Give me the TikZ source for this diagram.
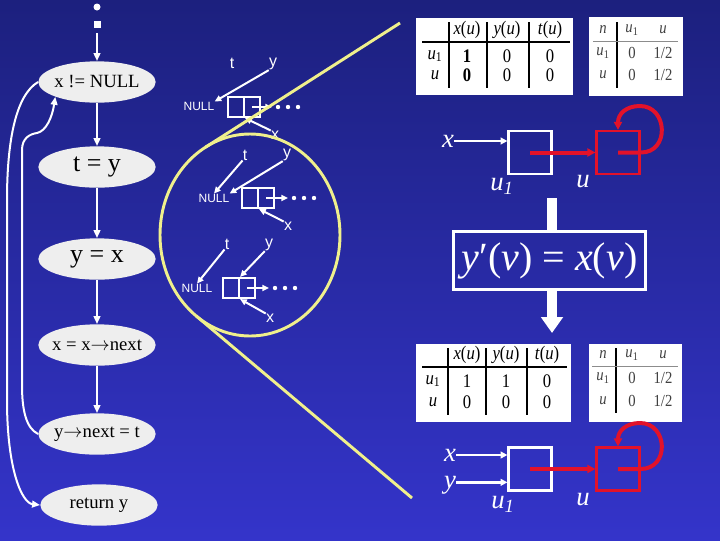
\documentclass[tikz,border=0pt]{standalone}
\usepackage{fontspec}
\setmainfont{Liberation Serif}
\setsansfont{Liberation Sans}
\usetikzlibrary{shapes.geometric, arrows.meta, positioning}

\definecolor{slidetop}{RGB}{28,32,126}
\definecolor{slidebot}{RGB}{52,52,202}
\definecolor{ovalgray}{RGB}{238,238,238}
\definecolor{hiyellow}{RGB}{240,240,140}
\definecolor{sumred}{RGB}{226,18,42}

\newcommand{\tall}[1]{\scalebox{1}[1.15]{#1}}
\newcommand{\xu}{\textit{x}(\textit{u})}
\newcommand{\yu}{\textit{y}(\textit{u})}
\newcommand{\tu}{\textit{t}(\textit{u})}
\newcommand{\uone}{\textit{u}\textsubscript{1}}
\newcommand{\arr}{\ensuremath{\rightarrow}}

\begin{document}
\begin{tikzpicture}[
  x=0.75pt, y=-0.75pt,
  flow/.style={ellipse, fill=ovalgray, minimum width=88pt, minimum height=31pt,
               inner xsep=-6pt, inner ysep=0pt, font=\fontsize{14}{16}\selectfont},
  flowbig/.style={flow, font=\fontsize{19.5}{22}\selectfont},
  down/.style={-{Triangle[length=6pt,width=5pt]}, white, line width=1.5pt},
  back/.style={-{Triangle[length=6pt,width=5pt]}, white, line width=1.5pt},
  lbl/.style={text=white, inner sep=0pt, font=\sffamily\fontsize{12}{14}\selectfont},
  nul/.style={text=white, inner sep=0pt, font=\sffamily\fontsize{9}{10}\selectfont},
  cell/.style={draw=white, line width=1.6pt, minimum width=12pt, minimum height=15pt, inner sep=0pt},
  ptr/.style={-{Triangle[length=5pt,width=4.5pt]}, white, line width=1.5pt},
  hl/.style={hiyellow, line width=2.2pt},
  tab/.style={fill=white, inner sep=0pt},
  tt/.style={inner sep=0pt, font=\fontsize{12.5}{13}\selectfont},
  ts/.style={inner sep=0pt, text=black!75, font=\fontsize{11}{12}\selectfont},
  rule/.style={black, line width=0.8pt},
  thin/.style={black!45, line width=0.6pt},
  big/.style={text=white, inner sep=0pt, font=\itshape\fontsize{20}{22}\selectfont},
  heap/.style={draw=white, line width=1.9pt, minimum width=32pt, minimum height=32pt, inner sep=0pt},
  heapred/.style={heap, draw=sumred},
  wptr/.style={-{Triangle[length=5pt,width=5pt]}, white, line width=1.8pt},
  rptr/.style={-{Triangle[length=6pt,width=6pt]}, sumred, line width=3pt},
  eqbox/.style={draw=white, line width=2.2pt, minimum width=144pt, minimum height=44pt,
                inner sep=0pt, text=white, font=\fontsize{30}{32}\selectfont},
  fat/.style={white, line width=7.5pt}
]
  \useasboundingbox (0,0) rectangle (720,540);
  \shade[top color=slidetop, bottom color=slidebot] (0,0) rectangle (720,540);

  %--- flow chart ---
  \fill[white] (97,7) circle (3.5);
  \fill[white] (93.5,20.5) rectangle (100.5,27.5);
  \coordinate (entry) at (97,33);

  \node[flow]    (cond)  at (97,82)  {x != NULL};
  \node[flowbig] (tey)   at (97,167) {t = y};
  \node[flowbig] (yex)   at (97,259) {y = x};
  \node[flow]    (xnext) at (97,345) {x = x\arr next};
  \node[flow]    (ynext) at (97,434) {y\arr next = t};
  \node[flow]    (ret)   at (99,505) {return y};

  \draw[down] (entry) -- (cond);
  \draw[down] (cond) -- (tey);
  \draw[down] (tey) -- (yex);
  \draw[down] (yex) -- (xnext);
  \draw[down] (xnext) -- (ynext);

  % loop exit and loop back
  \draw[back] (cond.west) .. controls (16,95) and (7,140) .. (7,200)
    -- (7,400) .. controls (7,470) and (22,503) .. (ret.west);
  \draw[back] (ynext.west) .. controls (26,428) and (22,410) .. (22,385)
    -- (22,150) .. controls (22,138) and (30,134) .. (37,133)
    .. controls (46,131) and (52,118) .. (cond.south west);

  %--- list before the loop ---
  \node[lbl] (t1) at (232,63) {t};
  \node[lbl] (y1) at (273,64) {y};
  \node[nul] (n1) at (199,106) {NULL};
  \node[cell] (a1) at (236,107) {};
  \node[cell] (b1) at (252,107) {};
  \node[lbl] (x1) at (275,135) {x};
  \coordinate (d1) at (272,107);
  \draw[ptr] (y1.south west) -- (n1.north east);
  \draw[ptr] (b1.center) -- (d1);
  \draw[ptr] (x1.north west) -- (a1.south east);
  \foreach \d in {278,288,298} \fill[white] (\d,107) circle (2.2);

  %--- after t = y ---
  \node[lbl] (t2) at (245,155) {t};
  \node[lbl] (y2) at (287,155) {y};
  \node[nul] (n2) at (214,198) {NULL};
  \node[cell] (a2) at (250,198) {};
  \node[cell] (b2) at (266,198) {};
  \node[lbl] (x2) at (288,226) {x};
  \coordinate (d2) at (288,198);
  \draw[ptr] (t2.south west) -- (n2.north);
  \draw[ptr] (y2.south west) -- (n2.north east);
  \draw[ptr] (b2.center) -- (d2);
  \draw[ptr] (x2.north west) -- (a2.south east);
  \foreach \d in {294,304,314} \fill[white] (\d,198) circle (2.2);

  %--- after y = x ---
  \node[lbl] (t3) at (227,244) {t};
  \node[lbl] (y3) at (269,245) {y};
  \node[nul] (n3) at (197,288) {NULL};
  \node[cell] (a3) at (231,288) {};
  \node[cell] (b3) at (247,288) {};
  \node[lbl] (x3) at (270,318) {x};
  \coordinate (d3) at (269,288);
  \draw[ptr] (t3.south west) -- (n3.north);
  \draw[ptr] (y3.south west) -- (a3.north east);
  \draw[ptr] (b3.center) -- (d3);
  \draw[ptr] (x3.north west) -- (a3.south east);
  \foreach \d in {275,285,295} \fill[white] (\d,288) circle (2.2);

  %--- zoom lens ---
  \draw[hl] (250,235) ellipse (90 and 101);
  \draw[hl] (400,23) -- (205.5,147.2);
  \draw[hl] (412,498) -- (195.9,315.7);

  %--- tables before ---
  \node[tab, minimum width=117.75pt, minimum height=57.75pt] (tabA) at (494.5,56.5) {};
  \foreach \lx in {449,487,529} \draw[rule] (\lx,22) -- (\lx,88);
  \draw[rule] (422,42) -- (570,42);
  \node[tt] (tA-x) at (467,30) {\tall{\xu}};
  \node[tt] (tA-y) at (507,30) {\tall{\yu}};
  \node[tt] (tA-t) at (550,30) {\tall{\tu}};
  \node[tt] (tA-r1) at (435,56) {\tall{\uone}};
  \node[tt] (tA-r2) at (435,75) {\tall{\textit{u}}};
  \foreach \cx/\va/\vb in {467/\textbf{1}/\textbf{0}, 507/0/0, 550/0/0} {
    \node[tt] (tA-a\cx) at (\cx,56) {\tall{\va}};
    \node[tt] (tA-b\cx) at (\cx,75) {\tall{\vb}};
  }

  \node[tab, minimum width=70.5pt, minimum height=59.25pt] (tabB) at (636,56.5) {};
  \draw[rule] (617,22) -- (617,88);
  \draw[thin] (593,41) -- (678,41);
  \node[ts] (tB-n) at (603,30) {\tall{\textit{n}}};
  \node[ts] (tB-c1) at (632,30) {\tall{\uone}};
  \node[ts] (tB-c2) at (663,30) {\tall{\textit{u}}};
  \node[ts] (tB-r1) at (603,53) {\tall{\uone}};
  \node[ts] (tB-r2) at (603,75) {\tall{\textit{u}}};
  \foreach \ry in {53,75} {
    \node[ts] (tB-a\ry) at (632,\ry) {\tall{0}};
    \node[ts] (tB-b\ry) at (663,\ry) {\tall{1/2}};
  }

  %--- heap before ---
  \node[big] (xA) at (448,141) {x};
  \node[heap]    (u1A) at (530,152.5) {};
  \node[heapred] (uA)  at (618,152.5) {};
  \node[big] (lu1A) at (502,186) {\uone};
  \node[big] (luA)  at (583,182) {u};
  \draw[wptr] (xA.east) -- (xA.east -| u1A.west);
  \draw[rptr] (u1A.center) -- (uA.west);
  \draw[rptr] (uA.center) -- (uA.east) .. controls (670,153) and (668,106) .. (640,106)
    .. controls (626,106) and (618,114) .. (uA.north);

  %--- update formula ---
  \node[eqbox] (eq) at (549.5,260.5) {\textit{y}′(\textit{v}) = \textit{x}(\textit{v})};
  \coordinate (bartop) at (552,198);
  \coordinate (barend) at (552,333);
  \draw[fat] (bartop) -- (bartop |- eq.north);
  \draw[fat, -{Triangle[length=12pt,width=16pt]}] (barend |- eq.south) -- (barend);

  %--- tables after ---
  \node[tab, minimum width=116.25pt, minimum height=58.5pt] (tabC) at (493.5,383) {};
  \foreach \lx in {448,486,527} \draw[rule] (\lx,348) -- (\lx,415);
  \draw[rule] (422,367) -- (567,367);
  \node[tt] (tC-x) at (467,355) {\tall{\xu}};
  \node[tt] (tC-y) at (506,355) {\tall{\yu}};
  \node[tt] (tC-t) at (547,355) {\tall{\tu}};
  \node[tt] (tC-r1) at (433,381) {\tall{\uone}};
  \node[tt] (tC-r2) at (433,402) {\tall{\textit{u}}};
  \foreach \cx/\va/\vb in {467/1/0, 506/1/0, 547/0/0} {
    \node[tt] (tC-a\cx) at (\cx,381) {\tall{\va}};
    \node[tt] (tC-b\cx) at (\cx,402) {\tall{\vb}};
  }

  \node[tab, minimum width=69.75pt, minimum height=58.5pt] (tabD) at (635.5,383) {};
  \draw[rule] (616,348) -- (616,413);
  \draw[thin] (592,366) -- (678,366);
  \node[ts] (tD-n) at (603,355) {\tall{\textit{n}}};
  \node[ts] (tD-c1) at (632,355) {\tall{\uone}};
  \node[ts] (tD-c2) at (663,355) {\tall{\textit{u}}};
  \node[ts] (tD-r1) at (603,378) {\tall{\uone}};
  \node[ts] (tD-r2) at (603,401) {\tall{\textit{u}}};
  \foreach \ry in {378,401} {
    \node[ts] (tD-a\ry) at (632,\ry) {\tall{0}};
    \node[ts] (tD-b\ry) at (663,\ry) {\tall{1/2}};
  }

  %--- heap after ---
  \node[big] (xB) at (450,455) {x};
  \node[big] (yB) at (450,485) {y};
  \node[heap]    (u1B) at (530,469) {};
  \node[heapred] (uB)  at (618,469) {};
  \node[big] (lu1B) at (503,504) {\uone};
  \node[big] (luB)  at (583,500) {u};
  \draw[wptr] (xB.east) -- (xB.east -| u1B.west);
  \draw[wptr] ([yshift=2pt]yB.east) -- ([yshift=2pt]yB.east -| u1B.west);
  \draw[rptr] (u1B.center) -- (uB.west);
  \draw[rptr] (uB.center) -- (uB.east) .. controls (670,469) and (668,423) .. (640,423)
    .. controls (626,423) and (618,431) .. (uB.north);
\end{tikzpicture}
\end{document}
